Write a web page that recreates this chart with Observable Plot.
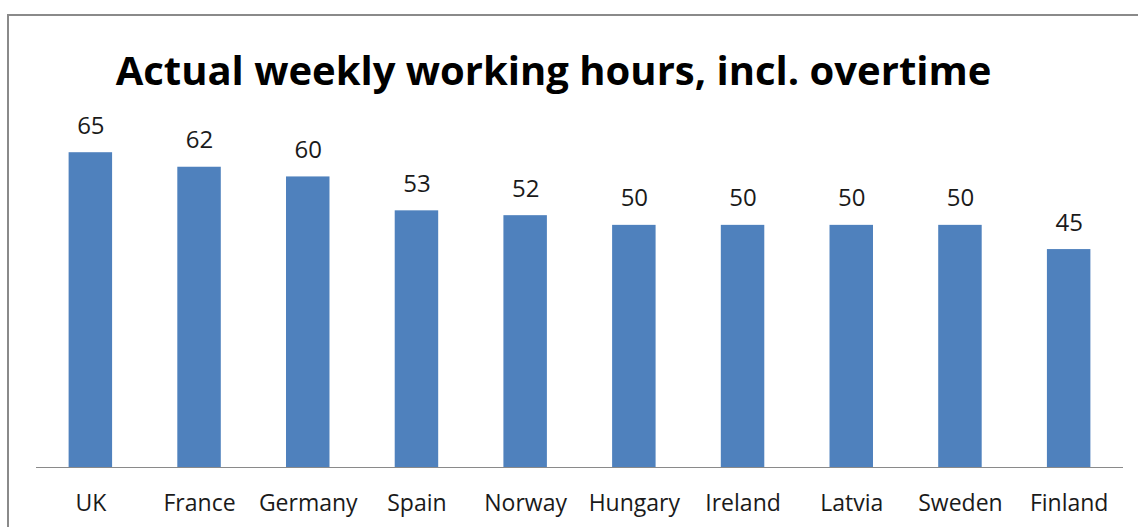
<!DOCTYPE html>
<html>
<head>
<meta charset="utf-8">
<script src="https://cdn.jsdelivr.net/npm/d3@7"></script>
<script src="https://cdn.jsdelivr.net/npm/@observablehq/plot@0.6"></script>
<style>
  html, body { margin: 0; padding: 0; background: #fff; }
  #wrap { position: relative; width: 1138px; height: 527px; overflow: hidden; font-family: "Open Sans", sans-serif; }
  #frame { position: absolute; left: 7px; top: 14px; width: 1200px; height: 600px; border-left: 2px solid #8a8a8a; border-top: 2px solid #8a8a8a; box-sizing: border-box; }
  #title { position: absolute; left: 0; width: 1107px; top: 43px; text-align: center; font-weight: bold; font-size: 40px; color: #000; line-height: 54px; }
  #chart { position: absolute; left: 0; top: 0; }
</style>
</head>
<body>
<div id="wrap">
  <div id="frame"></div>
  <div id="chart"></div>
  <div id="title">Actual weekly working hours, incl. overtime</div>
</div>
<script>
const countries = ["UK", "France", "Germany", "Spain", "Norway", "Hungary", "Ireland", "Latvia", "Sweden", "Finland"];
const hours = [65, 62, 60, 53, 52, 50, 50, 50, 50, 45];

const data = countries.map((c, i) => ({country: c, hours: hours[i]}));

const chart = Plot.plot({
  width: 1138,
  height: 527,
  marginLeft: 36,
  marginRight: 15,
  marginTop: 128,
  marginBottom: 60,
  style: {fontFamily: "Open Sans, sans-serif", background: "transparent", overflow: "visible"},
  x: {domain: countries, paddingInner: 0.6, paddingOuter: 0.3, round: false, label: null},
  y: {domain: [0, 70], axis: null},
  marks: [
    Plot.barY(data, {x: "country", y: "hours", fill: "#4F81BD"}),
    Plot.ruleY([0], {stroke: "#8a8a8a", strokeWidth: 1.2}),
    Plot.text(data, {x: "country", y: "hours", text: d => String(d.hours), lineAnchor: "bottom", dy: -19, fontSize: 24, fill: "#1a1a1a"}),
    Plot.axisX({tickSize: 0, tickPadding: 27, fontSize: 23, fill: "#1a1a1a", label: null})
  ]
});
document.getElementById("chart").appendChild(chart);
</script>
</body>
</html>
